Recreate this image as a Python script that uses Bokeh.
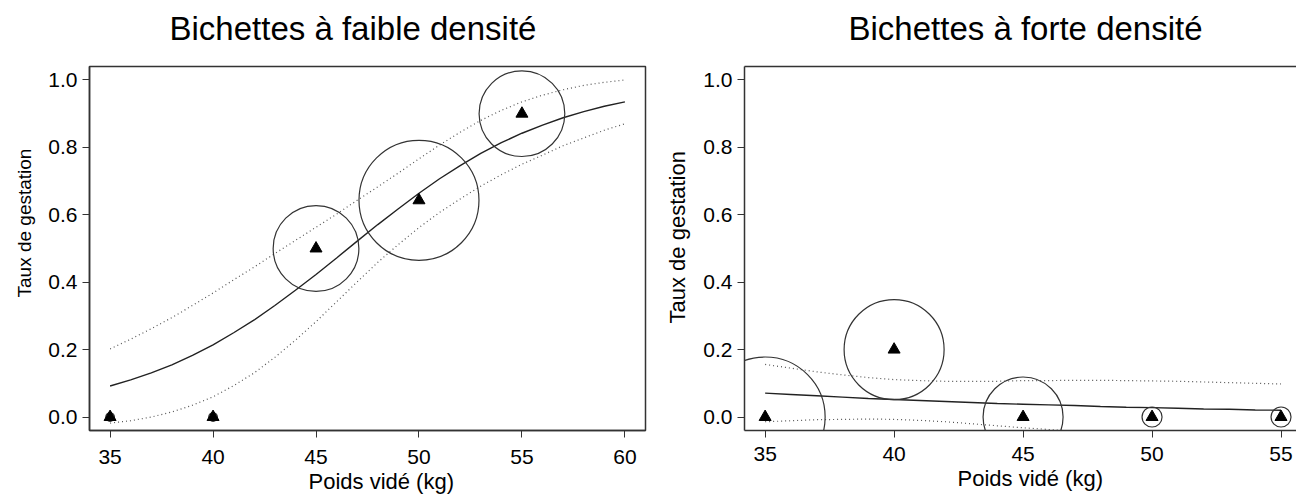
from bokeh.plotting import figure
from bokeh.layouts import row
from bokeh.models import (Range1d, FixedTicker, NumeralTickFormatter, Title,
                          LinearAxis, ColumnDataSource)
from bokeh.embed import file_html
from bokeh.resources import INLINE

# ---------------- data ----------------
poids = [35, 40, 45, 50, 55]

taux_faible = [0.0, 0.0, 0.5, 0.643, 0.9]
n_faible = [1, 1, 10, 14, 10]

taux_forte = [0.0, 0.2, 0.0, 0.0, 0.0]
n_forte = [6, 5, 4, 1, 1]

poids_courbe_faible = list(range(35, 61))
ajust_faible = [0.092, 0.110, 0.131, 0.155, 0.183, 0.214, 0.250, 0.288, 0.331, 0.376,
                0.423, 0.472, 0.522, 0.571, 0.618, 0.664, 0.707, 0.746, 0.782, 0.814,
                0.842, 0.866, 0.888, 0.906, 0.922, 0.935]
sup_faible = [0.202, 0.231, 0.262, 0.295, 0.331, 0.368, 0.407, 0.445, 0.485, 0.524,
              0.563, 0.602, 0.643, 0.683, 0.724, 0.766, 0.807, 0.845, 0.880, 0.910,
              0.935, 0.955, 0.971, 0.984, 0.993, 1.000]
inf_faible = [-0.018, -0.011, 0.000, 0.015, 0.035, 0.060, 0.093, 0.131, 0.177, 0.228,
              0.283, 0.342, 0.401, 0.459, 0.512, 0.562, 0.607, 0.647, 0.685, 0.719,
              0.750, 0.777, 0.805, 0.828, 0.851, 0.870]

poids_courbe_forte = list(range(35, 56))
ajust_forte = [0.071, 0.067, 0.063, 0.059, 0.055, 0.052, 0.049, 0.046, 0.043, 0.040,
               0.038, 0.036, 0.034, 0.031, 0.029, 0.028, 0.026, 0.024, 0.023, 0.021, 0.020]
sup_forte = [0.156, 0.145, 0.134, 0.125, 0.117, 0.111, 0.108, 0.106, 0.106, 0.106,
             0.108, 0.108, 0.109, 0.109, 0.108, 0.107, 0.106, 0.104, 0.102, 0.100, 0.098]
inf_forte = [-0.014, -0.011, -0.008, -0.007, -0.006, -0.007, -0.010, -0.014, -0.020, -0.026,
             -0.032, -0.037, -0.042, -0.046, -0.049, -0.052, -0.054, -0.055, -0.057, -0.057, -0.058]

x_ticks_faible = [35, 40, 45, 50, 55, 60]
x_ticks_forte = [35, 40, 45, 50, 55]
y_ticks = [0.0, 0.2, 0.4, 0.6, 0.8, 1.0]

titre_faible = "Bichettes à faible densité"
titre_forte = "Bichettes à forte densité"
label_x = "Poids vidé (kg)"
label_y = "Taux de gestation"

FONT = "Liberation Sans"
R_MAX = 60  # pixel radius of the largest bubble


def style_axes(p, xticks, x_standoff):
    p.xaxis.ticker = FixedTicker(ticks=xticks)
    p.yaxis.ticker = FixedTicker(ticks=y_ticks)
    p.yaxis.formatter = NumeralTickFormatter(format="0.0")
    p.xaxis.formatter = NumeralTickFormatter(format="0")
    for ax in (p.xaxis[0], p.yaxis[0]):
        ax.major_tick_in = 0
        ax.major_tick_out = 7
        ax.minor_tick_line_color = None
        ax.major_tick_line_color = "#333333"
        ax.major_tick_line_width = 1
        ax.major_label_text_font = FONT
        ax.major_label_text_font_size = "21px"
        ax.major_label_text_color = "black"
        ax.axis_line_color = "#333333"
        ax.axis_line_width = 1.5
    p.xaxis.major_label_standoff = x_standoff
    p.yaxis.major_label_standoff = 5
    p.xgrid.grid_line_color = None
    p.ygrid.grid_line_color = None


def top_frame_axis(line_color, anchor):
    # axis with one invisible tick: draws the top edge (or nothing) and
    # keeps the panel title at its distance above the frame
    return LinearAxis(ticker=FixedTicker(ticks=[anchor]), major_tick_in=0, major_tick_out=20,
                      major_tick_line_color=None, minor_tick_line_color=None,
                      major_label_overrides={anchor: ""},
                      major_label_text_font_size="0px", major_label_standoff=0,
                      axis_line_color=line_color, axis_line_width=1.5)


def draw(p, xc, fit, up, lo, taux, n):
    p.line(xc, up, line_color="#555555", line_width=1.2, line_dash="1 3")
    p.line(xc, lo, line_color="#555555", line_width=1.2, line_dash="1 3")
    p.line(xc, fit, line_color="#222222", line_width=1.4)
    nmax = max(n)
    src = ColumnDataSource(dict(x=poids, y=taux, r=[R_MAX * v / nmax for v in n]))
    p.circle(x="x", y="y", radius="r", radius_units="screen", source=src,
             fill_color=None, line_color="#333333", line_width=1.2)
    p.scatter(x="x", y="y", source=src, marker="triangle", size=12,
              fill_color="black", line_color="black")


def add_title(p, text, place, size, offset, standoff):
    p.add_layout(Title(text=text, align="left", offset=offset, standoff=standoff,
                       text_font=FONT, text_font_size=size, text_font_style="normal",
                       text_color="black"), place)


# ---------------- left panel ----------------
p1 = figure(width=650, height=499, output_backend="svg", toolbar_location=None,
            title=None, x_range=Range1d(34, 61), y_range=Range1d(-0.04, 1.04),
            min_border_left=89, min_border_right=5, min_border_top=65,
            min_border_bottom=69)
p1.outline_line_color = "#333333"
p1.outline_line_width = 1.5
style_axes(p1, x_ticks_faible, 12)
p1.add_layout(top_frame_axis(None, x_ticks_faible[0]), "above")
draw(p1, poids_courbe_faible, ajust_faible, sup_faible, inf_faible, taux_faible, n_faible)
add_title(p1, titre_faible, "above", "33px", 80, 0)
add_title(p1, label_x, "below", "22px", 219, 0)
add_title(p1, label_y, "left", "19px", 133, 22)

# ---------------- right panel ----------------
p2 = figure(width=646, height=499, output_backend="svg", toolbar_location=None,
            title=None, x_range=Range1d(34.2, 55.6), y_range=Range1d(-0.04, 1.04),
            min_border_left=94, min_border_right=0, min_border_top=66,
            min_border_bottom=65)
p2.outline_line_color = None
style_axes(p2, x_ticks_forte, 9)
p2.add_layout(top_frame_axis("#333333", x_ticks_forte[0]), "above")
draw(p2, poids_courbe_forte, ajust_forte, sup_forte, inf_forte, taux_forte, n_forte)
add_title(p2, titre_forte, "above", "33px", 104, 0)
add_title(p2, label_x, "below", "22px", 213, 0)
add_title(p2, label_y, "left", "22px", 107, 21)

layout = row(p1, p2)
open("out.html", "w").write(file_html(layout, INLINE))
